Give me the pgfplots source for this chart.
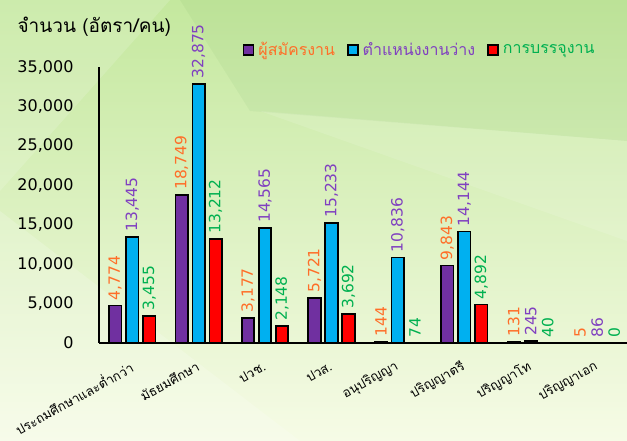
\documentclass[border=0pt]{standalone}
\usepackage{pgfplots}
\pgfplotsset{compat=1.18}
\usepackage{fontspec}
\setmainfont{DejaVu Sans}
\newfontfamily\thai[Script=Thai]{Loma}
\definecolor{bgtop}{RGB}{196,232,158}
\definecolor{bgbot}{RGB}{246,251,230}
\definecolor{cpur}{RGB}{112,48,160}
\definecolor{ccyan}{RGB}{0,176,240}
\definecolor{cred}{RGB}{255,0,0}
\definecolor{lorange}{RGB}{255,110,40}
\definecolor{lpurple}{RGB}{128,64,192}
\definecolor{lgreen}{RGB}{0,176,80}
\pgfplotsset{sqlegend/.style={legend image code/.code={\draw[##1,line width=1.6pt,draw=black] (0pt,-5pt) rectangle (10pt,5pt);}}}
\begin{document}
\begin{tikzpicture}[x=1pt,y=1pt]
\shade[top color=bgtop, bottom color=bgbot] (0,0) rectangle (627,441);
\fill[white,opacity=0.15] (0,441) -- (170,441) -- (0,250) -- cycle;
\fill[white,opacity=0.18] (0,0) -- (0,230) -- (300,0) -- cycle;
\fill[green!40!black,opacity=0.04] (180,441) -- (627,441) -- (627,300) -- (250,330) -- cycle;
\fill[white,opacity=0.12] (260,330) -- (627,300) -- (627,200) -- cycle;
\useasboundingbox (0,0) rectangle (627,441);
\node[anchor=west, font=\thai\fontsize{19}{19}\selectfont] at (14,414) {จำนวน (อัตรา/คน)};
\begin{axis}[
  at={(99pt,98pt)}, anchor=south west,
  scale only axis, width=528pt, height=276pt,
  xmin=-0.5, xmax=7.45, ymin=0, ymax=35000,
  axis x line*=bottom, axis y line*=left,
  axis line style={black, line width=1.2pt},
  major tick length=0pt,
  ybar=4.5pt, bar width=12.5pt,
  ytick={0,5000,...,35000},
  scaled y ticks=false,
  /pgf/number format/assume math mode=true,
  /pgf/number format/1000 sep={,},
  yticklabel style={font=\fontsize{16}{16}\selectfont, xshift=-22pt},
  xtick={0,...,7},
  xticklabels={ประถมศึกษาและต่ำกว่า,มัธยมศึกษา,ปวช.,ปวส.,อนุปริญญา,ปริญญาตรี,ปริญญาโท,ปริญญาเอก},
  xticklabel style={font=\thai\fontsize{13}{13}\selectfont, rotate=29, anchor=east, yshift=-19.5pt, xshift=-8pt},
  nodes near coords={\pgfmathprintnumber[1000 sep={,}]{\pgfplotspointmeta}},
  every node near coord/.append style={rotate=90, anchor=west, font=\fontsize{15.5}{15.5}\selectfont, inner sep=4.5pt},
  legend columns=-1,
  legend style={at={(0.272,1.062)}, anchor=west, draw=none, fill=none, font=\thai\fontsize{16}{16}\selectfont, column sep=2pt, inner sep=0pt},
  legend style={/tikz/every even column/.append style={column sep=10pt}},
]
\addplot[fill=cpur, draw=black, line width=1.6pt, sqlegend, every node near coord/.append style={text=lorange}] coordinates {(0,4774) (1,18749) (2,3177) (3,5721) (4,144) (5,9843) (6,131) (7,5)};
\addlegendentry{\textcolor{lorange}{ผู้สมัครงาน}}
\addplot[fill=ccyan, draw=black, line width=1.6pt, sqlegend, every node near coord/.append style={text=lpurple}] coordinates {(0,13445) (1,32875) (2,14565) (3,15233) (4,10836) (5,14144) (6,245) (7,86)};
\addlegendentry{\textcolor{lpurple}{ตำแหน่งงานว่าง}}
\addplot[fill=cred, draw=black, line width=1.6pt, sqlegend, every node near coord/.append style={text=lgreen}] coordinates {(0,3455) (1,13212) (2,2148) (3,3692) (4,74) (5,4892) (6,40) (7,0)};
\addlegendentry{\textcolor{lgreen}{การบรรจุงาน}}
\end{axis}
\end{tikzpicture}
\end{document}
